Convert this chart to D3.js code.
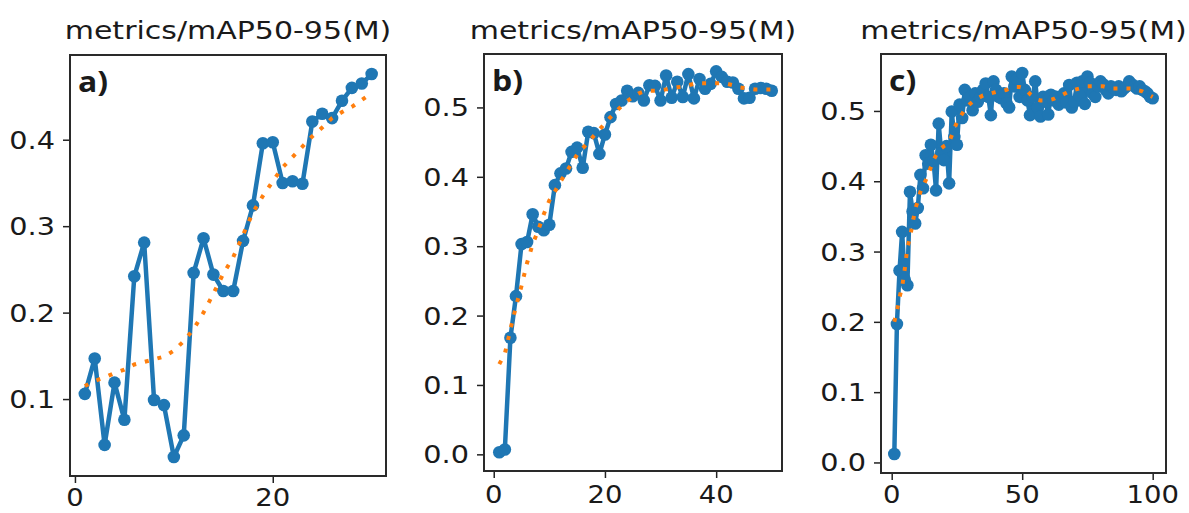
<!DOCTYPE html>
<html>
<head>
<meta charset="utf-8">
<script src="https://cdn.jsdelivr.net/npm/d3@7"></script>
<style>
  body { margin: 0; background: #fff; }
  svg { display: block; }
  text { font-family: "DejaVu Sans", sans-serif; fill: #1a1a1a; }
</style>
</head>
<body>
<svg id="chart" width="1189" height="513"></svg>
<script>
var width = 1189, height = 513;

// values
var titles = ["metrics/mAP50-95(M)", "metrics/mAP50-95(M)", "metrics/mAP50-95(M)"];
var panelLabels = ["a)", "b)", "c)"];

var mapA = [0.106, 0.147, 0.047, 0.119, 0.076, 0.242, 0.281, 0.099, 0.093, 0.033,
            0.058, 0.246, 0.286, 0.244, 0.225, 0.225, 0.283, 0.324, 0.396, 0.397,
            0.350, 0.352, 0.349, 0.421, 0.430, 0.425, 0.445, 0.460, 0.465, 0.476];
var smoothA = [0.115, 0.121, 0.125, 0.130, 0.134, 0.140, 0.143, 0.146, 0.149, 0.156,
               0.167, 0.181, 0.200, 0.222, 0.245, 0.264, 0.290, 0.316, 0.335, 0.352,
               0.368, 0.380, 0.392, 0.404, 0.414, 0.425, 0.432, 0.438, 0.446, 0.454];

var mapB = [0.003, 0.007, 0.168, 0.228, 0.303, 0.306, 0.346, 0.328, 0.323, 0.331,
            0.388, 0.405, 0.412, 0.436, 0.442, 0.413, 0.465, 0.463, 0.433, 0.461,
            0.486, 0.505, 0.510, 0.524, 0.516, 0.521, 0.510, 0.532, 0.531, 0.510,
            0.546, 0.514, 0.537, 0.515, 0.548, 0.513, 0.541, 0.527, 0.534, 0.552,
            0.544, 0.537, 0.536, 0.527, 0.513, 0.514, 0.527, 0.528, 0.527, 0.524];
var smoothB = [0.130, 0.145, 0.180, 0.213, 0.243, 0.276, 0.303, 0.323, 0.346, 0.366,
               0.379, 0.393, 0.406, 0.419, 0.432, 0.441, 0.450, 0.459, 0.468, 0.477,
               0.486, 0.494, 0.502, 0.509, 0.515, 0.520, 0.523, 0.524, 0.524, 0.525,
               0.526, 0.528, 0.529, 0.530, 0.532, 0.534, 0.535, 0.535, 0.535, 0.535,
               0.535, 0.534, 0.532, 0.529, 0.528, 0.527, 0.526, 0.526, 0.526, 0.526];

var mapC = [0.012, 0.197, 0.273, 0.328, 0.260, 0.252, 0.385, 0.357, 0.340, 0.362,
            0.409, 0.390, 0.437, 0.425, 0.452, 0.430, 0.387, 0.482, 0.440, 0.430,
            0.450, 0.397, 0.499, 0.463, 0.452, 0.509, 0.490, 0.530, 0.515, 0.520,
            0.501, 0.525, 0.513, 0.520, 0.530, 0.539, 0.520, 0.494, 0.542, 0.530,
            0.520, 0.518, 0.525, 0.511, 0.505, 0.549, 0.535, 0.545, 0.520, 0.554,
            0.530, 0.515, 0.494, 0.520, 0.542, 0.505, 0.492, 0.520, 0.513, 0.495,
            0.523, 0.515, 0.520, 0.509, 0.515, 0.525, 0.512, 0.537, 0.505, 0.513,
            0.540, 0.522, 0.542, 0.510, 0.549, 0.540, 0.525, 0.520, 0.535, 0.542,
            0.538, 0.530, 0.525, 0.535, 0.533, 0.530, 0.535, 0.528, 0.532, 0.535,
            0.542, 0.538, 0.535, 0.532, 0.535, 0.530, 0.528, 0.525, 0.520, 0.518];
var smoothC = [0.200, 0.215, 0.235, 0.250, 0.275, 0.305, 0.320, 0.340, 0.360, 0.372,
               0.385, 0.393, 0.401, 0.410, 0.420, 0.430, 0.437, 0.443, 0.447, 0.450,
               0.452, 0.456, 0.465, 0.475, 0.484, 0.490, 0.496, 0.502, 0.506, 0.510,
               0.513, 0.516, 0.518, 0.520, 0.522, 0.523, 0.524, 0.525, 0.526, 0.527,
               0.527, 0.528, 0.529, 0.530, 0.532, 0.533, 0.534, 0.534, 0.534, 0.533,
               0.531, 0.528, 0.524, 0.521, 0.518, 0.516, 0.515, 0.515, 0.515, 0.516,
               0.516, 0.517, 0.519, 0.521, 0.522, 0.524, 0.526, 0.528, 0.529, 0.530,
               0.531, 0.532, 0.533, 0.534, 0.535, 0.535, 0.535, 0.535, 0.535, 0.535,
               0.535, 0.534, 0.533, 0.532, 0.532, 0.532, 0.532, 0.532, 0.532, 0.532,
               0.532, 0.532, 0.531, 0.530, 0.529, 0.528, 0.526, 0.524, 0.522, 0.520];

var xTicksA = [0, 20], xTicksB = [0, 20, 40], xTicksC = [0, 50, 100];
var yTicksA = [0.1, 0.2, 0.3, 0.4];
var yTicksB = [0.0, 0.1, 0.2, 0.3, 0.4, 0.5];
var yTicksC = [0.0, 0.1, 0.2, 0.3, 0.4, 0.5];

var blue = "#1f77b4", orange = "#ff7f0e";

var panels = [
  {box: [70, 386, 55, 476], xd: [-0.5, 31.45], yd: [0.011, 0.498], xlab: 506,
   values: mapA, smooth: smoothA, xt: xTicksA, yt: yTicksA},
  {box: [484, 782, 54, 471], xd: [-1.75, 51.84], yd: [-0.024, 0.577], xlab: 503,
   values: mapB, smooth: smoothB, xt: xTicksB, yt: yTicksB},
  {box: [881, 1166, 54, 473], xd: [-4.1, 105.1], yd: [-0.015, 0.581], xlab: 503,
   values: mapC, smooth: smoothC, xt: xTicksC, yt: yTicksC}
];

var svg = d3.select("#chart");

// text in the picture is a bit wider than the font, so scale it sideways
function stretchedText(g, x, y, str, size, anchor, sx) {
  return g.append("text")
    .attr("transform", "translate(" + x + "," + y + ") scale(" + sx + ",1)")
    .attr("text-anchor", anchor)
    .style("font-size", size + "px")
    .text(str);
}

panels.forEach(function(p, i) {
  var left = p.box[0], right = p.box[1], top = p.box[2], bottom = p.box[3];
  var x = d3.scaleLinear().domain(p.xd).range([left, right]);
  var y = d3.scaleLinear().domain(p.yd).range([bottom, top]);
  var g = svg.append("g");

  stretchedText(g, (left + right) / 2, 39, titles[i], 25, "middle", 1.2);

  var xAxis = d3.axisBottom(x).tickValues(p.xt).tickSize(7);
  var yAxis = d3.axisLeft(y).tickValues(p.yt).tickSize(7);
  var gx = g.append("g").attr("transform", "translate(0," + bottom + ")").call(xAxis);
  var gy = g.append("g").attr("transform", "translate(" + left + ",0)").call(yAxis);
  [gx, gy].forEach(function(ax) {
    ax.select(".domain").remove();
    ax.selectAll(".tick line").attr("stroke", "#222").attr("stroke-width", 1.5);
    ax.selectAll(".tick text").remove();
  });
  p.xt.forEach(function(t) {
    stretchedText(g, x(t), p.xlab, d3.format("d")(t), 25, "middle", 1.1);
  });
  p.yt.forEach(function(t) {
    stretchedText(g, left - 15, y(t) + 9, d3.format(".1f")(t), 25, "end", 1.15);
  });

  var line = d3.line().x(function(d, j) { return x(j + 1); }).y(function(d) { return y(d); });
  var plot = g.append("g");
  plot.append("path").datum(p.values)
    .attr("d", line).attr("fill", "none")
    .attr("stroke", blue).attr("stroke-width", 4.5).attr("stroke-linejoin", "round");
  plot.selectAll("circle").data(p.values).join("circle")
    .attr("cx", function(d, j) { return x(j + 1); })
    .attr("cy", function(d) { return y(d); })
    .attr("r", 6.3).attr("fill", blue);
  plot.append("path").datum(p.smooth)
    .attr("d", line).attr("fill", "none")
    .attr("stroke", orange).attr("stroke-width", 4)
    .attr("stroke-dasharray", "4,9");

  g.append("rect").attr("x", left).attr("y", top)
    .attr("width", right - left).attr("height", bottom - top)
    .attr("fill", "none").attr("stroke", "#2a2a2a").attr("stroke-width", 2);

  stretchedText(g, left + 8, top + 37, panelLabels[i], 29, "start", 1.1)
    .style("font-family", "'Open Sans', sans-serif").style("font-weight", "bold");
});
</script>
</body>
</html>
